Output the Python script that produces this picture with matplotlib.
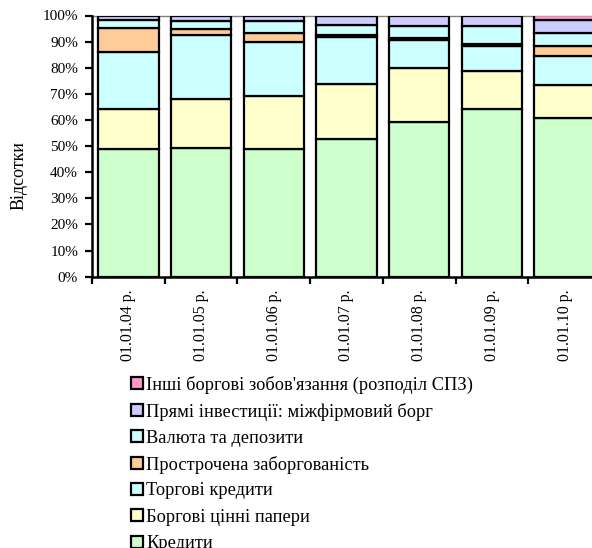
import matplotlib
matplotlib.use("Agg")
import matplotlib.pyplot as plt
import numpy as np
from matplotlib.patches import Rectangle
from matplotlib.ticker import FixedLocator, FuncFormatter

plt.rcParams["font.family"] = ["Liberation Serif", "DejaVu Serif"]

dates = ["01.01.04 р.", "01.01.05 р.", "01.01.06 р.", "01.01.07 р.",
         "01.01.08 р.", "01.01.09 р.", "01.01.10 р."]

credits = [48.9, 49.1, 48.7, 52.8, 59.1, 64.2, 60.7]
debt_securities = [15.3, 18.8, 20.6, 21.1, 20.7, 14.6, 12.6]
trade_credits = [21.9, 24.7, 20.7, 17.8, 10.7, 9.4, 11.3]
arrears = [9.3, 2.1, 3.2, 1.0, 0.9, 1.0, 3.6]
currency_deposits = [2.8, 3.1, 4.6, 3.5, 4.7, 6.8, 5.1]
fdi_intercompany = [1.8, 2.2, 2.2, 3.8, 3.9, 4.0, 5.0]
other_sdr = [0.0, 0.0, 0.0, 0.0, 0.0, 0.0, 1.7]

series = [
    ("Кредити", credits, "#CCFFCC"),
    ("Боргові цінні папери", debt_securities, "#FFFFCC"),
    ("Торгові кредити", trade_credits, "#CCFFFF"),
    ("Прострочена заборгованість", arrears, "#FFCC99"),
    ("Валюта та депозити", currency_deposits, "#CCFFFF"),
    ("Прямі інвестиції: міжфірмовий борг", fdi_intercompany, "#CCCCFF"),
    ("Інші боргові зобов'язання (розподіл СПЗ)", other_sdr, "#FF99CC"),
]

W, H = 592, 548
fig = plt.figure(figsize=(W / 100, H / 100), dpi=100)
ax = fig.add_axes([92 / W, 1 - 276.7 / H, 509 / W, 261.2 / H])

x = np.arange(len(dates))
bottom = np.zeros(len(dates))
for name, vals, color in series:
    vals = np.array(vals)
    ax.bar(x, vals, width=0.83, bottom=bottom, color=color,
           edgecolor="black", linewidth=1.6, zorder=3)
    bottom += vals

ax.set_xlim(-0.5, len(dates) - 0.5)
ax.set_ylim(0, 100)

# y axis
ax.set_yticks(np.arange(0, 101, 10))
ax.yaxis.set_major_formatter(FuncFormatter(lambda v, p: f"{int(v)}%"))
ax.tick_params(axis="y", direction="out", length=5, width=1.6, pad=5,
               labelsize=11, colors="black")

# x axis: ticks at category boundaries, labels at centres
ax.xaxis.set_major_locator(FixedLocator(np.arange(-0.5, len(dates), 1.0)))
ax.xaxis.set_minor_locator(FixedLocator(x))
ax.xaxis.set_major_formatter(FuncFormatter(lambda v, p: ""))
ax.set_xticklabels(dates, minor=True, rotation=90, va="top", ha="center")
ax.tick_params(axis="x", which="major", direction="out", length=5, width=1.6)
ax.tick_params(axis="x", which="minor", length=0, pad=9, labelsize=11.5)

for side in ("left", "bottom"):
    ax.spines[side].set_linewidth(1.8)
    ax.spines[side].set_zorder(4)
ax.spines["top"].set_color("#808080")
ax.spines["top"].set_linewidth(1.0)
ax.spines["right"].set_visible(False)

fig.text(19 / W, 1 - 176 / H, "Відсотки", rotation=90, ha="center",
         va="center", fontsize=13)

# legend, top entry first
row0, step = 383.3, 26.4
for i, (name, _, color) in enumerate(series[::-1]):
    yc = row0 + i * step
    fig.add_artist(Rectangle((130.5 / W, 1 - (yc + 6) / H), 12 / W, 12 / H,
                             transform=fig.transFigure, facecolor=color,
                             edgecolor="black", linewidth=1.6))
    fig.text(146.5 / W, 1 - yc / H, name, ha="left", va="center_baseline",
             fontsize=13.2)

fig.savefig("out.png", dpi=100)
